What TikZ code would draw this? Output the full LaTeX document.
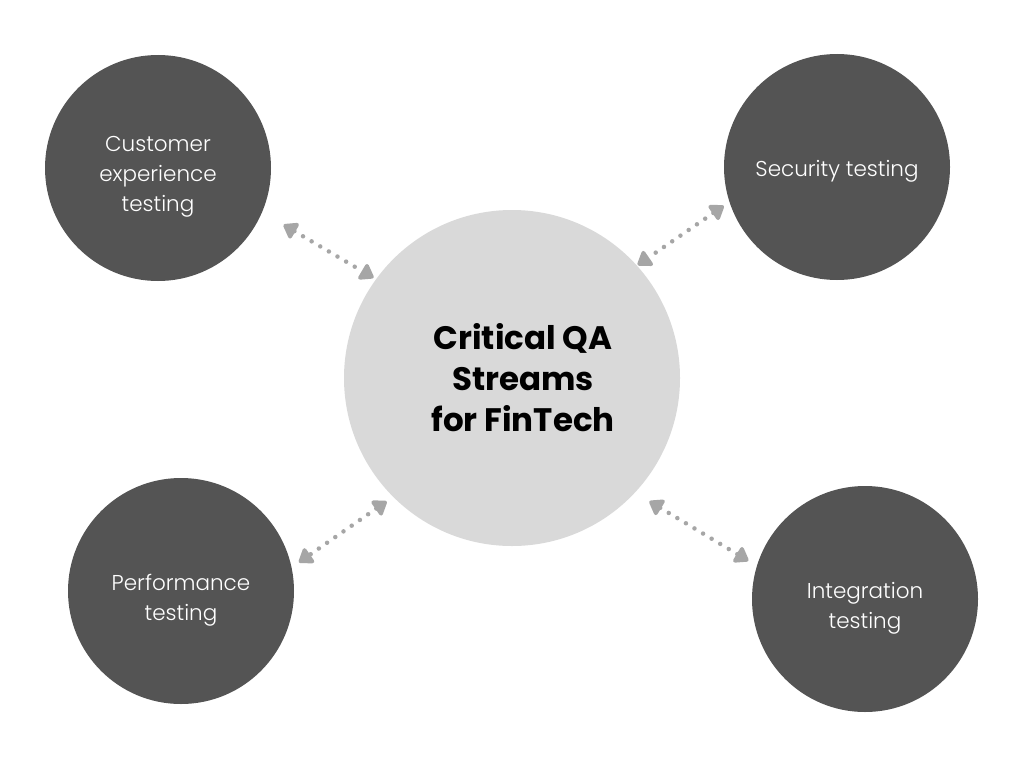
\documentclass[tikz,border=0pt]{standalone}
\usepackage{fontspec}
\setmainfont{Poppins}
\newfontfamily\thinfont{Poppins}[UprightFont=* Light]
\usetikzlibrary{arrows.meta}
\definecolor{darkdisc}{HTML}{545454}
\definecolor{lightdisc}{HTML}{D9D9D9}
\definecolor{linkgray}{HTML}{A6A6A6}

\begin{document}
\begin{tikzpicture}[x=1pt, y=-1pt,
		stream/.style = {circle, fill=darkdisc, minimum size=226pt, inner sep=0pt, outer sep=0pt},
		streamtext/.style = {text=white, align=center, yshift=-9pt, font=\thinfont\fontsize{21.5}{30}\selectfont},
		hub/.style = {circle, fill=lightdisc, minimum size=336pt, inner sep=0pt, outer sep=0pt},
		hubtext/.style = {text=black, align=center, xshift=11pt, font=\bfseries\fontsize{32.5}{41}\selectfont},
		link/.style = {draw=linkgray, line width=4.5pt, line cap=round, dash pattern=on 0pt off 10pt,
			{Triangle[round, length=15pt, width=20pt, fill=linkgray]}-{Triangle[round, length=15pt, width=20pt, fill=linkgray]}}]
		\useasboundingbox (0,0) rectangle (1024,768);
		\fill[white] (0,0) rectangle (1024,768);

		\node [hub, label={[hubtext]center:Critical QA\\Streams\\for FinTech}] (qa) at (512,378) {};

		\node [stream, label={[streamtext]center:Customer\\experience\\testing}] (cx) at (158,168) {};
		\node [stream, label={[streamtext, yshift=5pt]center:Security testing}] (sec) at (837,167) {};
		\node [stream, label={[streamtext]center:Performance\\testing}] (perf) at (181,591) {};
		\node [stream, label={[streamtext]center:Integration\\testing}] (integ) at (865,599) {};

		\draw [link, shorten <=25pt, shorten >=3pt] (cx.-23) -- (qa.144);
		\draw [link, shorten <=7pt, shorten >=1pt] (sec.198) -- (qa.42);
		\draw [link, shorten <=8pt, shorten >=9pt] (qa.225) -- (perf.12);
		\draw [link, shorten <=17pt, shorten >=10pt] (qa.-43) -- (integ.163);
	\end{tikzpicture}
\end{document}
